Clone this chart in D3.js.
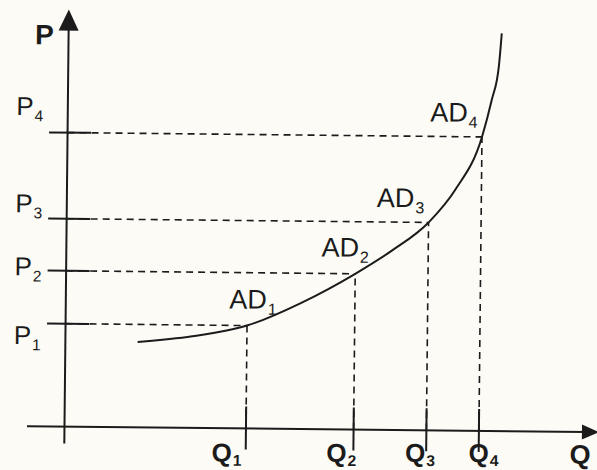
<!DOCTYPE html>
<html>
<head>
<meta charset="utf-8">
<script src="https://cdn.jsdelivr.net/npm/d3@7"></script>
<style>
body { margin: 0; background: #fcfbf6; }
svg { display: block; }
</style>
</head>
<body>
<div></div>
<script>
const width = 597, height = 470

// data (both axes in 0-100 chart units)
const qLabels = ["1", "2", "3", "4"]
const qValues = [34.9, 55.6, 69.6, 79.7]
const pLabels = ["1", "2", "3", "4"]
const pValues = [24.5, 37.1, 49.5, 70.0]
const adLabels = ["1", "2", "3", "4"]
// points
const curveQ = [13.9, 24.4, 34.9, 45.2, 55.6, 62.6, 69.6, 74.7, 79.7, 81.5, 82.8, 83.3]
const curveP = [20.3, 21.8, 24.5, 30.0, 37.1, 42.7, 49.5, 57.4, 70.0, 78.8, 86.8, 94.7]

// label placement (pixels)
const pLabelDy = [21, 5, -6, -17]
const adLabelDx = [-18, -34, -52, -52]
const adLabelDy = [-17, -17, -15, -15]
const qLabelDx = [-34, -27, -21, -10]

const ink = "#1b1b1b"
const font = "'Liberation Sans', Arial, sans-serif"

const svg = d3.select("div")
    .append("svg")
    .attr("xmlns", "http://www.w3.org/2000/svg")
    .attr("width", width)
    .attr("height", height)

svg.append("rect").attr("width", width).attr("height", height).attr("fill", "#fcfbf6")

// the scan is a little tilted
const g = svg.append("g").attr("transform", "rotate(0.6, 298, 235)")

const x = d3.scaleLinear().domain([0, 100]).range([66.5, 586.5])
const y = d3.scaleLinear().domain([0, 100]).range([429, 9])
const x0 = x(0), y0 = y(0)

const line = d3.line().x(d => d[0]).y(d => d[1])

// axes
g.append("path")
    .attr("d", line([[x0, 446], [x0, 30]]))
    .attr("stroke", ink).attr("stroke-width", 2).attr("fill", "none")
g.append("path")
    .attr("d", `M${x0},12 L${x0 + 10},33 L${x0 - 10},33 Z`)
    .attr("fill", ink)
g.append("path")
    .attr("d", line([[29, y0], [588, y0]]))
    .attr("stroke", ink).attr("stroke-width", 2).attr("fill", "none")
g.append("path")
    .attr("d", `M601,${y0} L584,${y0 - 7.5} L584,${y0 + 7.5} Z`)
    .attr("fill", ink)

// dashed guides
const pts = qValues.map((q, i) => [q, pValues[i]])
g.selectAll(".hdash").data(pts).enter().append("path")
    .attr("d", d => line([[x0, y(d[1])], [x(d[0]), y(d[1])]]))
    .attr("stroke", ink).attr("stroke-width", 1.6)
    .attr("stroke-dasharray", "7,5").attr("fill", "none")
g.selectAll(".vdash").data(pts).enter().append("path")
    .attr("d", d => line([[x(d[0]), y0], [x(d[0]), y(d[1])]]))
    .attr("stroke", ink).attr("stroke-width", 1.6)
    .attr("stroke-dasharray", "7,5").attr("fill", "none")

// solid tick marks
g.selectAll(".ptick").data(pValues).enter().append("path")
    .attr("d", d => line([[48, y(d)], [90, y(d)]]))
    .attr("stroke", ink).attr("stroke-width", 2)
g.selectAll(".qtick").data(qValues).enter().append("path")
    .attr("d", d => line([[x(d), 407], [x(d), 450]]))
    .attr("stroke", ink).attr("stroke-width", 2)

// AD curve
g.append("path")
    .datum(curveQ.map((q, i) => [q, curveP[i]]))
    .attr("d", d3.line().x(d => x(d[0])).y(d => y(d[1])).curve(d3.curveMonotoneX))
    .attr("stroke", ink).attr("stroke-width", 2).attr("fill", "none")

// labels with subscripts
function subLabel(sel, main, sub, size, weight, drop) {
    sel.attr("font-family", font).attr("font-size", size)
        .attr("font-weight", weight).attr("fill", ink)
    sel.append("tspan").text(main)
    sel.append("tspan").text(sub)
        .attr("font-size", size * 0.6).attr("dy", drop).attr("dx", 1)
}

g.append("text").attr("x", 33).attr("y", 47)
    .attr("font-family", font).attr("font-size", 28).attr("font-weight", "bold")
    .attr("fill", ink).text("P")
g.append("text").attr("x", 572).attr("y", 461)
    .attr("font-family", font).attr("font-size", 27).attr("font-weight", "bold")
    .attr("fill", ink).text("Q")

pLabels.forEach((s, i) => {
    const t = g.append("text").attr("x", 15).attr("y", y(pValues[i]) + pLabelDy[i])
    subLabel(t, "P", s, 26, "normal", 6)
})
adLabels.forEach((s, i) => {
    const t = g.append("text")
        .attr("x", x(qValues[i]) + adLabelDx[i])
        .attr("y", y(pValues[i]) + adLabelDy[i])
    subLabel(t, "AD", s, 27, "normal", 6)
})
qLabels.forEach((s, i) => {
    const t = g.append("text").attr("x", x(qValues[i]) + qLabelDx[i]).attr("y", 462 - (x(qValues[i]) - 298) * 0.0105)
    subLabel(t, "Q", s, 26, "bold", 4)
})
</script>
</body>
</html>
